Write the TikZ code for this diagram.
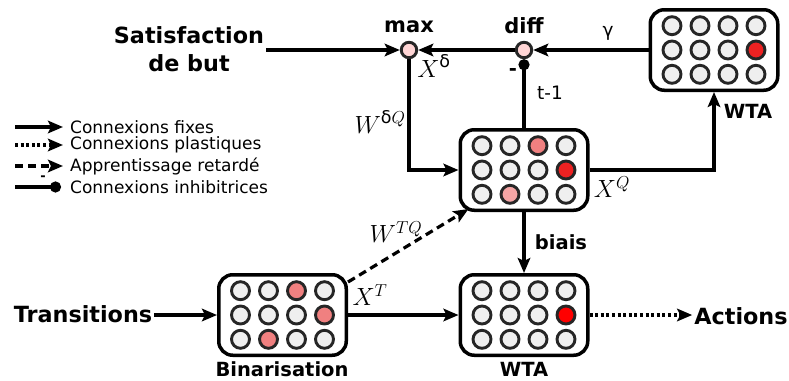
\documentclass[tikz,border=0pt]{standalone}
\usepackage{amsmath}
\usepackage{fontspec}
\setmainfont{DejaVu Sans}
\usetikzlibrary{arrows.meta,calc}
\definecolor{ugray}{HTML}{EFEFEF}
\definecolor{usalmon}{HTML}{F08080}
\definecolor{upink}{HTML}{F5A5A5}
\definecolor{ured}{HTML}{EE2222}
\definecolor{upure}{HTML}{FF0000}
\definecolor{opfill}{HTML}{FFD5D5}
\tikzset{
 netbox/.style={draw, line width=3.5pt, rounded corners=14pt, minimum width=127.5pt, minimum height=80.5pt, inner sep=0pt, fill=white},
 unit/.style={circle, draw=black!85, line width=2.9pt, minimum size=18pt, inner sep=0pt},
 opnode/.style={circle, draw=black!85, line width=2.9pt, fill=opfill, minimum size=15.5pt, inner sep=0pt},
 conn/.style={line width=3.2pt, -{Stealth[length=15pt,width=12.5pt,inset=3pt]}},
 plastic/.style={conn, dash pattern=on 3pt off 2.6pt},
 delayed/.style={conn, dash pattern=on 8pt off 5pt},
 inhib/.style={line width=3.2pt, -{Circle[length=11pt]}},
 bigl/.style={font=\fontsize{22.3}{28}\selectfont\bfseries, inner sep=2pt},
 midl/.style={font=\fontsize{19.5}{24}\selectfont\bfseries, inner sep=0pt},
 opl/.style={font=\fontsize{21}{24}\selectfont\bfseries, inner sep=1pt},
 mathl/.style={font=\fontsize{25}{30}\selectfont, inner sep=0pt},
 txtl/.style={font=\fontsize{18.5}{22}\selectfont, inner sep=1pt},
 legl/.style={font=\fontsize{17}{20}\selectfont, anchor=west, inner sep=0pt},
}
\newcommand\setunit[4]{\expandafter\def\csname uc@#1@#2@#3\endcsname{#4}}
\newcommand\netbox[2]{%
  \node[netbox] (#1) at (#2) {};
  \foreach \rowi in {1,2,3}{\foreach \coli in {1,2,3,4}{%
    \ifcsname uc@#1@\rowi @\coli\endcsname
      \edef\unitcol{\csname uc@#1@\rowi @\coli\endcsname}%
    \else\def\unitcol{ugray}\fi
    \node[unit, fill=\unitcol] (#1-\rowi-\coli) at ($(#1.center)+({(\coli-2.5)*28},{(\rowi-2)*24.3})$) {};
  }}%
}
\setunit{q}{1}{3}{usalmon}
\setunit{q}{2}{4}{ured}
\setunit{q}{3}{2}{upink}
\setunit{bin}{1}{3}{usalmon}
\setunit{bin}{2}{4}{usalmon}
\setunit{bin}{3}{2}{usalmon}
\setunit{wtaT}{2}{4}{ured}
\setunit{wtaB}{2}{4}{upure}
\begin{document}
\begin{tikzpicture}[x=1pt,y=-1pt]
\useasboundingbox (0,0) rectangle (789,380);

% network boxes
\netbox{q}{524,170}
\netbox{wtaT}{714,50}
\netbox{wtaB}{524,315}
\netbox{bin}{282.5,315}

% operator nodes
\node[opnode] (max) at (409,50) {};
\node[opnode] (diff) at (524,50) {};
\node[opl] (maxl) at (409,27) {max};
\node[opl] (diffl) at (524,26) {diff};

% input / output labels
\node[bigl, align=center] (sat) at (189,49) {Satisfaction\\de but};
\node[bigl] (trans) at (83,314) {Transitions};
\node[bigl] (act) at (741,316) {Actions};
\node[midl] (bintxt) at (282,369) {Binarisation};
\node[midl] (wtaBtxt) at (524,369) {WTA};
\node[midl] (wtaTtxt) at (748,111) {WTA};
\node[midl] (biais) at (561,242) {biais};

% connectors
\draw[conn] (sat.east |- max) -- (max);
\draw[conn] (diff) -- (max);
\draw[conn] (wtaT) -- (diff);
\draw[conn] (max) |- (q.west);
\draw[inhib] (q.north) -- (diff.south);
\draw[conn] (q.east) -| (wtaT.south);
\draw[conn] (q) -- (wtaB);
\draw[conn] (bin) -- (wtaB);
\draw[delayed] ($(bin.north east)+(0,9)$) -- ($(q.south west)+(10,-3)$);
\draw[conn] (trans.east |- bin) -- (bin);
\draw[plastic] (wtaB.east) -- (act.west |- wtaB);

% connector labels
\node[txtl] (gam) at (608,33) {γ};
\node[mathl] (xd) at (434,66) {$X^{\text{δ}}$};
\node[mathl] (wdq) at (380,122) {$W^{\text{δ}Q}$};
\node[txtl] (tm1) at (550,93) {t-1};
\node[midl] (minus) at (513,72) {-};
\node[mathl] (xq) at (612,187) {$X^{Q}$};
\node[mathl] (wtq) at (396,232) {$W^{TQ}$};
\node[mathl] (xt) at (370,295) {$X^{T}$};

% legend
\coordinate (la1) at (15,127); \coordinate (lb1) at (63,127);
\coordinate (la2) at (15,145); \coordinate (lb2) at (63,145);
\coordinate (la3) at (15,166); \coordinate (lb3) at (63,166);
\coordinate (la4) at (15,187); \coordinate (lb4) at (61,187);
\draw[conn] (la1) -- (lb1);
\draw[plastic] (la2) -- (lb2);
\draw[delayed] (la3) -- (lb3);
\draw[inhib] (la4) -- (lb4);
\node[font=\fontsize{13}{13}\selectfont\bfseries, inner sep=0pt] (legminus) at (43,178) {-};
\node[legl] (leg1) at (70,127) {Connexions fixes};
\node[legl] (leg2) at (70,145) {Connexions plastiques};
\node[legl] (leg3) at (70,166) {Apprentissage retardé};
\node[legl] (leg4) at (70,187) {Connexions inhibitrices};
\end{tikzpicture}
\end{document}
